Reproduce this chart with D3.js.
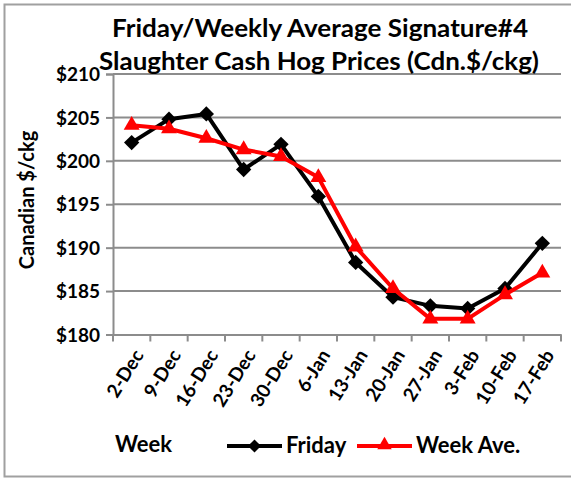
<!DOCTYPE html>
<html><head><meta charset="utf-8">
<script src="https://cdn.jsdelivr.net/npm/d3@7"></script>
<style>body{margin:0;background:#fff}svg{display:block}text{font-family:Lato,"Open Sans",sans-serif;font-weight:bold;fill:#000}</style>
</head><body>
<script>
const weeks = ["2-Dec","9-Dec","16-Dec","23-Dec","30-Dec","6-Jan","13-Jan","20-Jan","27-Jan","3-Feb","10-Feb","17-Feb"];
const friday = [202.1,204.8,205.4,199.0,201.9,195.9,188.3,184.3,183.3,183.0,185.3,190.5];
const weekAve = [204.1,203.7,202.6,201.3,200.5,198.1,190.1,185.3,181.8,181.8,184.6,187.1];
const yTicks = [180,185,190,195,200,205,210];
const titleLines = ["Friday/Weekly Average Signature#4","Slaughter Cash Hog Prices (Cdn.$/ckg)"];

(function(){
const W=571,H=478;
const svg=d3.select("body").append("svg").attr("width",W).attr("height",H);
svg.append("rect").attr("x",4.5).attr("y",4.5).attr("width",W+10).attr("height",472).attr("fill","#fff").attr("stroke","#a0a0a0").attr("stroke-width",2);

const pL=113,pR=561,pT=74,pB=334.5;
const x=d3.scaleBand().domain(weeks).range([pL,pR]);
const y=d3.scaleLinear().domain([180,210]).range([pB,pT]);
const grid="#8c8c8c";

svg.append("g").selectAll("line").data(yTicks.filter(d=>d>180)).join("line")
 .attr("x1",pL).attr("x2",pR).attr("y1",d=>y(d)).attr("y2",d=>y(d))
 .attr("stroke",grid).attr("stroke-width",2);

const ya=svg.append("g").attr("transform",`translate(${pL},0)`)
 .call(d3.axisLeft(y).tickValues(yTicks).tickSize(7).tickPadding(6).tickFormat(d=>"$"+d));
ya.select(".domain").attr("stroke",grid).attr("stroke-width",2);
ya.selectAll(".tick line").attr("stroke",grid).attr("stroke-width",2);
ya.selectAll("text").attr("font-size",19).attr("font-family","Lato").attr("font-weight","bold").attr("fill","#000").attr("dy","0.35em");

const xa=svg.append("g").attr("transform",`translate(0,${pB})`)
 .call(d3.axisBottom(x).tickSize(0).tickFormat(""));
xa.select(".domain").attr("stroke",grid).attr("stroke-width",2);
const edges=weeks.map(w=>x(w)).concat([pR]);
svg.append("g").selectAll("line").data(edges).join("line")
 .attr("x1",d=>d).attr("x2",d=>d).attr("y1",pB).attr("y2",pB+7)
 .attr("stroke",grid).attr("stroke-width",2);
svg.append("g").selectAll("text").data(weeks).join("text")
 .attr("transform",d=>`translate(${x(d)+x.bandwidth()/2+7},${pB+17}) rotate(-58)`)
 .attr("text-anchor","end").attr("dy","0.35em").attr("font-size",19).text(d=>d);

const cx=d=>x(d)+x.bandwidth()/2;
const lineGen=(vals)=>d3.line().x((v,i)=>cx(weeks[i])).y(v=>y(v))(vals);
svg.append("path").attr("d",lineGen(friday)).attr("fill","none").attr("stroke","#000").attr("stroke-width",4).attr("stroke-linejoin","round");
svg.append("g").selectAll("path").data(friday).join("path")
 .attr("d",d3.symbol(d3.symbolDiamond2,150)).attr("transform",(v,i)=>`translate(${cx(weeks[i])},${y(v)})`).attr("fill","#000");
svg.append("path").attr("d",lineGen(weekAve)).attr("fill","none").attr("stroke","#ff0000").attr("stroke-width",4).attr("stroke-linejoin","round");
svg.append("g").selectAll("path").data(weekAve).join("path")
 .attr("d",d3.symbol(d3.symbolTriangle,110)).attr("transform",(v,i)=>`translate(${cx(weeks[i])},${y(v)})`).attr("fill","#ff0000");

svg.append("text").attr("x",320).attr("y",37).attr("text-anchor","middle").attr("font-size",24)
 .attr("textLength",416).attr("lengthAdjust","spacingAndGlyphs").text(titleLines[0]);
svg.append("text").attr("x",319).attr("y",70).attr("text-anchor","middle").attr("font-size",24)
 .attr("textLength",440).attr("lengthAdjust","spacingAndGlyphs").text(titleLines[1]);

svg.append("text").attr("transform","translate(34,200) rotate(-90)").attr("text-anchor","middle").attr("font-size",20).text("Canadian $/ckg");

svg.append("text").attr("x",115).attr("y",452).attr("font-size",22).text("Week");

const lg=svg.append("g");
lg.append("line").attr("x1",227).attr("x2",282).attr("y1",446).attr("y2",446).attr("stroke","#000").attr("stroke-width",4);
lg.append("path").attr("d",d3.symbol(d3.symbolDiamond2,110)).attr("transform","translate(254.5,446)").attr("fill","#000");
lg.append("text").attr("x",286).attr("y",453).attr("font-size",22).text("Friday");
lg.append("line").attr("x1",357).attr("x2",412).attr("y1",446).attr("y2",446).attr("stroke","#ff0000").attr("stroke-width",4);
lg.append("path").attr("d",d3.symbol(d3.symbolTriangle,90)).attr("transform","translate(384.5,445)").attr("fill","#ff0000");
lg.append("text").attr("x",416).attr("y",453).attr("font-size",22).text("Week Ave.");
})();
</script>
</body></html>
